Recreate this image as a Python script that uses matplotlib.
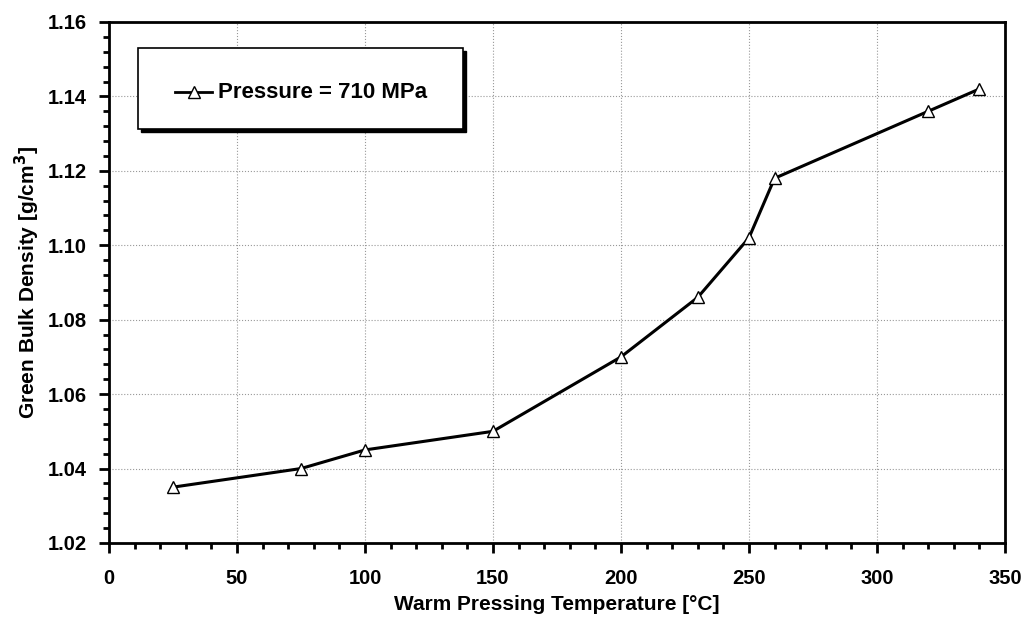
import matplotlib
matplotlib.use('Agg')
import matplotlib.pyplot as plt
from matplotlib.ticker import MultipleLocator
from matplotlib.patches import Rectangle

plt.rcParams['font.family'] = ['Liberation Sans', 'DejaVu Sans']
plt.rcParams['font.weight'] = 'bold'

temperature = [25, 75, 100, 150, 200, 230, 250, 260, 320, 340]
density = [1.035, 1.040, 1.045, 1.050, 1.070, 1.086, 1.102, 1.118, 1.136, 1.142]
series_label = 'Pressure = 710 MPa'

fig = plt.figure(figsize=(10.30, 6.28), dpi=100)
ax = fig.add_axes([0.1058, 0.1354, 0.8699, 0.8296])

ax.plot(temperature, density, color='black', lw=2.2, marker='^', markersize=9,
        markerfacecolor='white', markeredgecolor='black', markeredgewidth=1.0)

ax.set_xlim(0, 350)
ax.set_ylim(1.02, 1.16)
ax.xaxis.set_major_locator(MultipleLocator(50))
ax.xaxis.set_minor_locator(MultipleLocator(10))
ax.yaxis.set_major_locator(MultipleLocator(0.02))
ax.yaxis.set_minor_locator(MultipleLocator(0.004))
ax.yaxis.set_major_formatter(plt.FormatStrFormatter('%.2f'))

ax.grid(True, which='major', color='#999999', linestyle=':', linewidth=0.8)
ax.tick_params(which='major', direction='out', length=7, width=2, labelsize=14.5, pad=12)
ax.tick_params(axis='y', which='major', pad=9)
ax.tick_params(which='minor', direction='out', length=4, width=2)
for s in ax.spines.values():
    s.set_linewidth(2)

ax.set_xlabel('Warm Pressing Temperature [°C]', fontsize=15, fontweight='bold', labelpad=5)
ax.set_ylabel('Green Bulk Density [g/cm$^\\mathbf{3}$]', fontsize=15, fontweight='bold', labelpad=4)

# legend box with shadow
x0, y0, w, h = 138, 628 - 129, 325, 81
shadow = Rectangle((x0 + 3, y0 - 3), w, h, transform=None, facecolor='black',
                   edgecolor='black', zorder=5)
box = Rectangle((x0, y0), w, h, transform=None, facecolor='white',
                edgecolor='black', linewidth=1.2, zorder=6)
fig.patches.extend([shadow, box])
ly = 628 - 92
fig.lines.append(plt.Line2D([175, 212], [ly, ly], transform=None,
                            color='black', lw=2, zorder=7))
fig.lines.append(plt.Line2D([194], [ly], transform=None, color='black',
                            marker='^', markersize=9, markerfacecolor='white',
                            markeredgecolor='black', zorder=8))
fig.text(218 / 1030, ly / 628, series_label, fontsize=16,
         fontweight='bold', va='center', ha='left', zorder=9)

fig.savefig('out.png', dpi=100)
